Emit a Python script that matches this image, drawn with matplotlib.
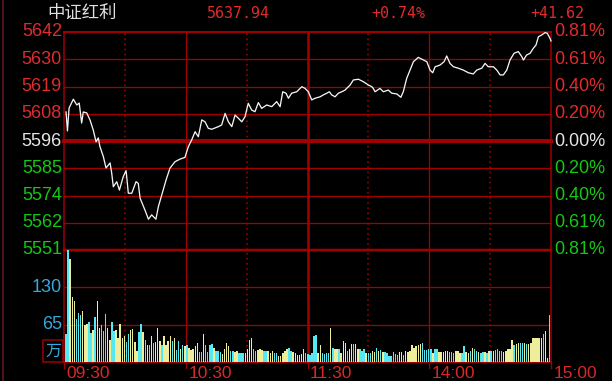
import numpy as np
import matplotlib
matplotlib.use("Agg")
import matplotlib.pyplot as plt
from matplotlib.patches import Rectangle
from matplotlib.transforms import blended_transform_factory

# header values
index_name = "中证红利"
last_price = "5637.94"
change_pct = "+0.74%"
change_pts = "+41.62"
prev_close = 5596.32
max_pct = 0.0081

left_labels = ["5642", "5630", "5619", "5608", "5596", "5585", "5574", "5562", "5551"]
right_labels = ["0.81%", "0.61%", "0.40%", "0.20%", "0.00%", "0.20%", "0.40%", "0.61%", "0.81%"]
vol_labels = ["130", "65"]
vol_label_vals = [130, 65]
time_labels = ["09:30", "10:30", "11:30", "14:00", "15:00"]
time_label_min = [0, 60, 120, 180, 240]

# minutes since 09:30 (lunch break removed) and index level
price_t = [1.0, 1.7, 2.5, 4.6, 6.3, 7.5, 8.7, 9.5, 11.2, 12.8,
           14.4, 15.8, 16.9, 17.7, 19.4, 20.7, 22.7, 23.5, 24.3, 26.0,
           27.3, 29.2, 30.6, 31.7, 33.4, 35.5, 36.6, 37.5, 39.9, 41.6,
           43.2, 45.3, 46.5, 48.2, 50.3, 52.2, 54.7, 57.2, 59.6, 61.3,
           62.9, 64.6, 66.2, 67.9, 69.5, 71.1, 72.8, 76.1, 77.7, 79.4,
           81.0, 82.7, 84.3, 85.9, 87.6, 89.2, 90.8, 92.5, 94.1, 95.8,
           97.4, 99.9, 102.4, 104.8, 106.5, 107.8, 109.4, 110.6, 112.2, 114.7,
           117.2, 118.8, 120.4, 122.1, 123.7, 126.2, 127.8, 129.5, 130.8, 131.9,
           133.6, 135.2, 136.9, 138.5, 139.3, 141.0, 142.6, 145.1, 147.5, 150.0,
           151.7, 152.4, 153.3, 155.7, 157.4, 159.8, 161.5, 164.0, 166.0, 167.2,
           168.9, 170.5, 172.2, 174.6, 177.1, 178.8, 180.4, 181.7, 182.9, 185.3,
           187.3, 188.6, 190.2, 191.9, 194.3, 196.8, 199.3, 201.7, 203.4, 205.9,
           207.5, 209.1, 211.6, 213.3, 214.9, 216.5, 218.2, 219.8, 221.8, 223.9,
           225.6, 226.4, 228.0, 229.7, 231.3, 232.6, 233.8, 235.4, 237.1, 238.2,
           239.5, 240.0]
price_v = [5608.4, 5600.5, 5610.0, 5613.7, 5611.3, 5612.1, 5603.8, 5608.4, 5608.0, 5605.1,
           5600.9, 5596.0, 5597.6, 5594.0, 5589.8, 5585.1, 5587.2, 5583.0, 5577.3, 5579.4,
           5575.9, 5581.5, 5584.0, 5574.6, 5574.6, 5579.4, 5578.7, 5572.5, 5567.6, 5563.8,
           5565.6, 5563.8, 5569.0, 5573.9, 5580.1, 5585.0, 5587.7, 5588.8, 5589.5, 5594.0,
           5596.7, 5600.2, 5598.1, 5605.1, 5604.3, 5601.6, 5601.2, 5602.3, 5603.0, 5607.8,
           5604.3, 5602.3, 5607.1, 5605.8, 5604.3, 5606.4, 5612.0, 5609.2, 5608.5, 5612.3,
           5609.9, 5611.3, 5610.6, 5612.7, 5610.6, 5616.8, 5616.2, 5614.1, 5616.2, 5616.8,
           5618.9, 5618.2, 5616.8, 5613.4, 5614.1, 5614.7, 5615.5, 5616.2, 5616.8, 5615.5,
           5614.7, 5616.2, 5616.8, 5617.5, 5618.2, 5619.6, 5621.7, 5622.0, 5621.0, 5619.6,
           5618.9, 5618.2, 5616.8, 5618.2, 5616.8, 5617.5, 5616.2, 5615.9, 5614.5, 5616.8,
           5622.4, 5625.8, 5629.3, 5631.1, 5630.0, 5629.3, 5625.8, 5624.7, 5627.2, 5627.9,
           5629.3, 5631.7, 5628.6, 5627.2, 5626.6, 5625.8, 5624.7, 5624.2, 5625.8, 5626.6,
           5628.6, 5627.2, 5627.2, 5625.8, 5623.8, 5623.8, 5625.8, 5630.0, 5632.8, 5633.5,
           5631.4, 5630.0, 5632.1, 5632.8, 5634.9, 5636.2, 5639.7, 5640.4, 5641.4, 5641.1,
           5639.0, 5637.94]

# volume per minute (万), c = cyan bar, y = yellow bar
vol = [49, 195, 179, 114, 106, 75, 85, 81, 88, 64,
       66, 69, 50, 56, 78, 106, 60, 64, 54, 83,
       60, 39, 69, 54, 56, 42, 67, 42, 46, 35,
       49, 56, 58, 35, 20, 52, 67, 52, 39, 30,
       30, 46, 33, 35, 59, 36, 30, 46, 30, 36,
       46, 36, 41, 21, 36, 23, 30, 27, 29, 25,
       21, 23, 27, 33, 17, 17, 49, 29, 17, 30,
       31, 25, 20, 19, 17, 14, 23, 33,
       27, 20, 20, 17, 20, 15, 15, 15, 16, 23,
       39, 42, 23, 19, 21, 23, 21, 20, 20, 20,
       16, 20, 16, 16, 10, 10, 16, 19, 23, 24,
       20, 17, 16, 13, 12, 14, 23, 16, 14, 13,
       16, 45, 47, 16, 29, 16, 14, 16, 16, 60,
       25, 23, 23, 23, 16, 36, 33, 20, 23, 31,
       31, 31, 23, 23, 20, 23, 16, 16, 16, 19,
       17, 25, 20, 21, 17, 17, 16, 10,
       10,
       17, 14, 12, 17, 17, 13, 20, 17, 20, 29,
       25, 27, 30, 31, 33, 21, 21, 23, 23, 16,
       23, 23, 17, 17, 17, 20, 20, 17, 17, 16,
       20, 20, 16, 16, 27, 17, 16, 20, 25, 23,
       20, 17, 16, 17, 17, 16, 20, 20, 20, 21,
       23, 19, 20, 17, 20, 23, 23, 39, 29, 31,
       33, 33, 33, 33, 31, 31, 33, 42, 42, 42,
       42, 42, 49, 54, 7, 81]
vol_dir = ("ccyyycccyy" "yccycyyccc" "yyccyyyyyc" "cyyyyccycy" "cycyyycyyy"
           "ycyccycycy" "yyyyccyccc" "cycccyyy"
           "yccyycccyy" "yyccyyyccy" "yyccyyyyyc" "cyyyyyyccc" "cccyyccccy"
           "cyycyyycyy" "cyycccyccy" "ycycyccc"
           "c"
           "cccyycyyyy" "yyyycccccy" "ccyyyyyccc" "yyyccyycyc" "cyccycycyc"
           "cccyyyyycy" "yccycyyyyy" "yycyyc")

RED = "#e02c2c"
GREEN = "#14c814"
WHITE = "#e6e6e6"
GRID = "#a00000"
CYAN_TXT = "#36a8dc"
PX = 0.72  # one pixel in points at dpi 100

W, H = 612, 381
fig = plt.figure(figsize=(W / 100, H / 100), dpi=100, facecolor="black")


def fx(x):
    return x / W


def fy(y):
    return 1 - y / H


ax = fig.add_axes([fx(64), fy(250), (551 - 64) / W, (250 - 32) / H])
axv = fig.add_axes([fx(64), fy(362), (551 - 64) / W, (362 - 250) / H])
span = prev_close * max_pct
for a in (ax, axv):
    a.set_facecolor("black")
    a.set_xlim(0, 240)
    a.axis("off")
ax.set_ylim(prev_close - span, prev_close + span)
axv.set_ylim(0, 195)

# horizontal grid in price panel
levels = [prev_close + span * (4 - k) / 4 for k in range(9)]
for k, lv in enumerate(levels):
    lw = 4 * PX if k == 4 else (2 * PX if k == 0 else 1.3 * PX)
    ax.axhline(lv, color=GRID, lw=lw, zorder=1, clip_on=False)
for v in vol_label_vals:
    axv.axhline(v, color=GRID, lw=1.3 * PX, zorder=1)
axv.axhline(195, color=GRID, lw=2.5 * PX, zorder=1, clip_on=False)
axv.axhline(0, color=GRID, lw=2 * PX, zorder=1, clip_on=False)

# vertical grid
for a in (ax, axv):
    for m, lw in zip([0, 60, 120, 180, 240], [1.5, 1.3, 2.6, 1.3, 1.5]):
        a.axvline(m, color=GRID, lw=lw * PX, zorder=1, clip_on=False)
    for m in [30, 90, 150, 210]:
        a.axvline(m, color=GRID, lw=1.6 * PX, ls=(0, (1, 2.2)), zorder=1)
for m in [0, 60, 120, 180, 240]:
    axv.plot([m, m], [0, -11], color=GRID, lw=1.3 * PX, clip_on=False)

# volume bars
bar_x = np.linspace(1, 239.3, len(vol))
bar_c = ["#55e8f2" if d == "c" else "#eeee9a" for d in vol_dir]
axv.bar(bar_x, vol, width=0.72, color=bar_c, linewidth=0, zorder=2)

# price line
ax.plot(price_t, price_v, color="#f4f4f4", lw=1.3 * PX, zorder=3, clip_on=False)

# axis labels
num_font = dict(family="Liberation Sans", fontsize=13)
tl = blended_transform_factory(ax.transAxes, ax.transData)
for k, (lv, lt, rt) in enumerate(zip(levels, left_labels, right_labels)):
    col = RED if k < 4 else (WHITE if k == 4 else GREEN)
    ax.text(-0.004, lv, lt, transform=tl, ha="right", va="center", color=col, **num_font)
    ax.text(1.006, lv, rt, transform=tl, ha="left", va="center", color=col, **num_font)

tv = blended_transform_factory(axv.transAxes, axv.transData)
for v, s in zip(vol_label_vals, vol_labels):
    axv.text(-0.004, v, s, transform=tv, ha="right", va="center", color=CYAN_TXT, **num_font)

tt = blended_transform_factory(axv.transData, fig.transFigure)
for m, s in zip(time_label_min, time_labels):
    axv.text(m + 1.2, fy(380.5), s, transform=tt, ha="left", va="bottom",
             color="#d82828", family="Liberation Sans", fontsize=12.5)

# 万 unit box
fig.patches.append(Rectangle((fx(43), fy(362)), 20 / W, 22 / H, transform=fig.transFigure,
                             fill=False, edgecolor=GRID, lw=1.5 * PX))
fig.text(fx(53), fy(351), "万", ha="center", va="center", color=CYAN_TXT,
         family=["Noto Sans CJK SC", "DejaVu Sans"], fontsize=11.5)

# left frame line
fig.add_artist(plt.Line2D([fx(3), fx(3)], [0, 1], color="#6a1a1a", lw=1.5 * PX))

# header
fig.text(fx(47), fy(13), index_name, ha="left", va="center", color="#e0e0e0",
         family=["Noto Sans CJK SC", "DejaVu Sans"], fontsize=12.5)
hdr = dict(family="DejaVu Sans Mono", fontsize=10.8, color=RED, ha="left", va="center")
fig.text(fx(207), fy(13), last_price, **hdr)
fig.text(fx(371), fy(13), change_pct, **hdr)
fig.text(fx(530), fy(13), change_pts, **hdr)

fig.savefig("out.png", dpi=100, facecolor="black")
